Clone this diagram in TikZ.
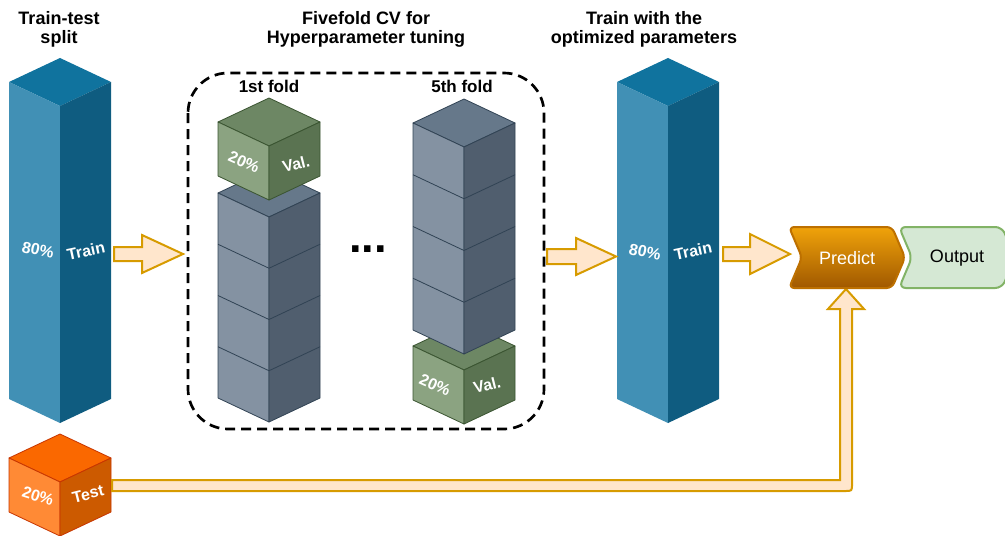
\documentclass[tikz,border=0pt]{standalone}
\usepackage{fontspec}
\setmainfont{Liberation Sans}
\definecolor{bluetop}{HTML}{10739E}
\definecolor{blueleft}{HTML}{4190B5}
\definecolor{blueright}{HTML}{0F5C80}
\definecolor{greytop}{HTML}{66788A}
\definecolor{greyleft}{HTML}{8492A2}
\definecolor{greyright}{HTML}{505E6E}
\definecolor{greyline}{HTML}{314354}
\definecolor{greentop}{HTML}{6D8764}
\definecolor{greenleft}{HTML}{8BA381}
\definecolor{greenright}{HTML}{5A7351}
\definecolor{greenline}{HTML}{3A5431}
\definecolor{orangetop}{HTML}{FA6800}
\definecolor{orangeleft}{HTML}{FF8A35}
\definecolor{orangeright}{HTML}{CC5A00}
\definecolor{orangeline}{HTML}{C73500}
\definecolor{arrowfill}{HTML}{FFE6CC}
\definecolor{arrowline}{HTML}{D79B00}
\definecolor{predtop}{HTML}{F0A30A}
\definecolor{predbot}{HTML}{A05800}
\definecolor{predline}{HTML}{BD7000}
\definecolor{outfill}{HTML}{D5E8D4}
\definecolor{outline}{HTML}{82B366}
% #1 cx, #2 y of side top corners, #3 face height, #4 top, #5 left, #6 right, #7 stroke
\newcommand\isobox[7]{%
  \path[fill=#4,draw=#7,line width=0.6pt,line join=round]
    ({#1-51},{#2}) -- ({#1},{#2-24}) -- ({#1+51},{#2}) -- ({#1},{#2+24}) -- cycle;
  \path[fill=#5,draw=#7,line width=0.6pt,line join=round]
    ({#1-51},{#2}) -- ({#1},{#2+24}) -- ({#1},{#2+24+#3}) -- ({#1-51},{#2+#3}) -- cycle;
  \path[fill=#6,draw=#7,line width=0.6pt,line join=round]
    ({#1},{#2+24}) -- ({#1+51},{#2}) -- ({#1+51},{#2+#3}) -- ({#1},{#2+24+#3}) -- cycle;
}
\newcommand\stackdiv[3]{% cx, ty, step
  \foreach \k in {1,2,3}{
    \draw[greyline,line width=0.6pt] ({#1-51},{#2+\k*#3}) -- ({#1},{#2+24+\k*#3}) -- ({#1+51},{#2+\k*#3});
  }
}
\begin{document}
\begin{tikzpicture}[x=0.75pt,y=-0.75pt,
  blockarrow/.style={fill=arrowfill,draw=arrowline,line width=1.5pt,line join=miter},
  facelbl/.style={text=white,font=\bfseries\fontsize{12}{14}\selectfont,inner sep=0pt},
  titletext/.style={font=\bfseries\fontsize{13.5}{15}\selectfont,anchor=base,inner sep=0pt},
  foldtext/.style={font=\bfseries\fontsize{12.75}{14}\selectfont,anchor=base,inner sep=0pt},
  cvbox/.style={draw=black,line width=2pt,dash pattern=on 7.5pt off 4.5pt,rounded corners=30pt},
  chevtext/.style={font=\fontsize{13.5}{15}\selectfont,inner sep=0pt}]
\useasboundingbox (0,0) rectangle (1005,535);
\clip (0,0) rectangle (1005,535);

% titles
\node[titletext] (t1a) at (59,25) {Train-test};
\node[titletext] (t1b) at (59,44) {split};
\node[titletext] (t2a) at (366,25) {Fivefold CV for};
\node[titletext] (t2b) at (366,44) {Hyperparameter tuning};
\node[titletext] (t3a) at (644,25) {Train with the};
\node[titletext] (t3b) at (644,44) {optimized parameters};

% CV box
\draw[cvbox] (188,73) rectangle (544,429);
\node[foldtext] (f1) at (269,93) {1st fold};
\node[foldtext] (f5) at (462,93) {5th fold};

% left train column
\isobox{60}{82}{317}{bluetop}{blueleft}{blueright}{none}
\node[facelbl,rotate=-12] (l80) at (38,250) {80\%};
\node[facelbl,rotate=12] (ltr) at (86,251) {Train};

% test cube
\isobox{60}{458}{54}{orangetop}{orangeleft}{orangeright}{orangeline}
\node[facelbl,rotate=-18] (t20) at (38,496) {20\%};
\node[facelbl,rotate=14] (tts) at (88,494) {Test};

% 1st fold
\isobox{269}{193}{205}{greytop}{greyleft}{greyright}{greyline}
\stackdiv{269}{193}{51.25}
\isobox{269}{122}{54}{greentop}{greenleft}{greenright}{greenline}
\node[facelbl,rotate=-24] (v1a) at (244,162) {20\%};
\node[facelbl,rotate=14] (v1b) at (296,164) {Val.};

% 5th fold
\isobox{464}{346}{54}{greentop}{greenleft}{greenright}{greenline}
\isobox{464}{123}{207}{greytop}{greyleft}{greyright}{greyline}
\stackdiv{464}{123}{51.75}
\node[facelbl,rotate=-24] (v5a) at (435,385) {20\%};
\node[facelbl,rotate=14] (v5b) at (487,385) {Val.};

% ellipsis
\node[font=\bfseries\fontsize{34}{34}\selectfont,inner sep=0pt,anchor=base] (dots) at (368,252) {...};

% right train column
\isobox{668}{82}{317}{bluetop}{blueleft}{blueright}{none}
\node[facelbl,rotate=-12] (r80) at (645,252) {80\%};
\node[facelbl,rotate=12] (rtr) at (693,251) {Train};

% block arrows
\draw[blockarrow] (114,247) -- (142,247) -- (142,235) -- (183,254) -- (142,273) -- (142,261) -- (114,261) -- cycle;
\draw[blockarrow] (547,249) -- (576,249) -- (576,238) -- (616,256.5) -- (576,275) -- (576,264) -- (547,264) -- cycle;
\draw[blockarrow] (723,247) -- (750,247) -- (750,234) -- (790,254) -- (750,274) -- (750,261) -- (723,261) -- cycle;
\draw[blockarrow] (112,480) -- (840,480) -- (840,309) -- (828,309) -- (846,289) -- (864,309) -- (852,309) -- (852,484) .. controls (852,491) .. (845,491) -- (112,491) -- cycle;

% Predict
\path[draw=predline,top color=predtop,bottom color=predbot,line width=1.5pt,rounded corners=4pt]
  (789,227) -- (892,227) -- (905,257.5) -- (892,288) -- (789,288) -- (802,257.5) -- cycle;
\node[chevtext,text=white] (predict) at (847,258) {Predict};

% Output
\path[draw=outline,fill=outfill,line width=1.5pt,rounded corners=5pt]
  (899,227) -- (1002,227) -- (1015,257.5) -- (1002,288) -- (899,288) -- (912,257.5) -- cycle;
\node[chevtext,text=black] (output) at (957,258) {Output};
\end{tikzpicture}
\end{document}
